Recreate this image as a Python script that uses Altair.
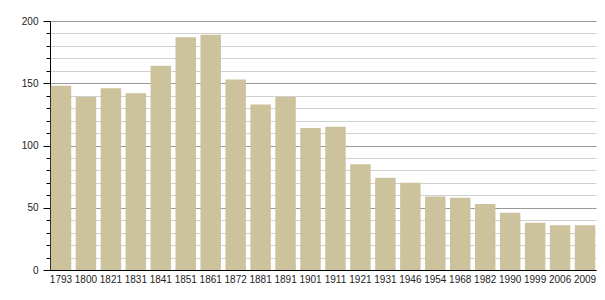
import altair as alt
import pandas as pd

years = ["1793", "1800", "1821", "1831", "1841", "1851", "1861", "1872", "1881", "1891",
         "1901", "1911", "1921", "1931", "1946", "1954", "1968", "1982", "1990", "1999",
         "2006", "2009"]
population = [148, 139, 146, 142, 164, 187, 189, 153, 133, 139,
              114, 115, 85, 74, 70, 59, 58, 53, 46, 38, 36, 36]

df = pd.DataFrame({"year": years, "pop": population})

chart = alt.Chart(df).mark_bar(color="#ccc29c").encode(
    x=alt.X("year:N", sort=None, title=None,
            scale=alt.Scale(paddingInner=0.18, paddingOuter=0.03),
            axis=alt.Axis(labelAngle=0, ticks=False, domainColor="#000", labelFont="Liberation Sans",
                          labelFontSize=10, labelColor="#222", labelPadding=4, grid=False,
                          labelOverlap=False)),
    y=alt.Y("pop:Q", title=None,
            scale=alt.Scale(domain=[0, 200], nice=False),
            axis=alt.Axis(values=list(range(0, 201, 10)),
                          labelExpr="datum.value % 50 === 0 ? datum.label : ''",
                          domainColor="#000", tickColor="#000",
                          tickSize=alt.condition("datum.value % 50 === 0", alt.value(7), alt.value(4)),
                          gridColor=alt.condition("datum.value % 50 === 0", alt.value("#999"), alt.value("#d0d0d0")),
                          labelFont="Liberation Sans", labelFontSize=10, labelColor="#222",
                          labelPadding=5)),
).properties(
    width=546, height=249,
    padding={"left": 50, "top": 21, "right": 9, "bottom": 30},
    autosize=alt.AutoSizeParams(type="none"),
).configure_view(stroke=None)

chart.save("out.html", embed_options={"renderer": "svg", "actions": False})
